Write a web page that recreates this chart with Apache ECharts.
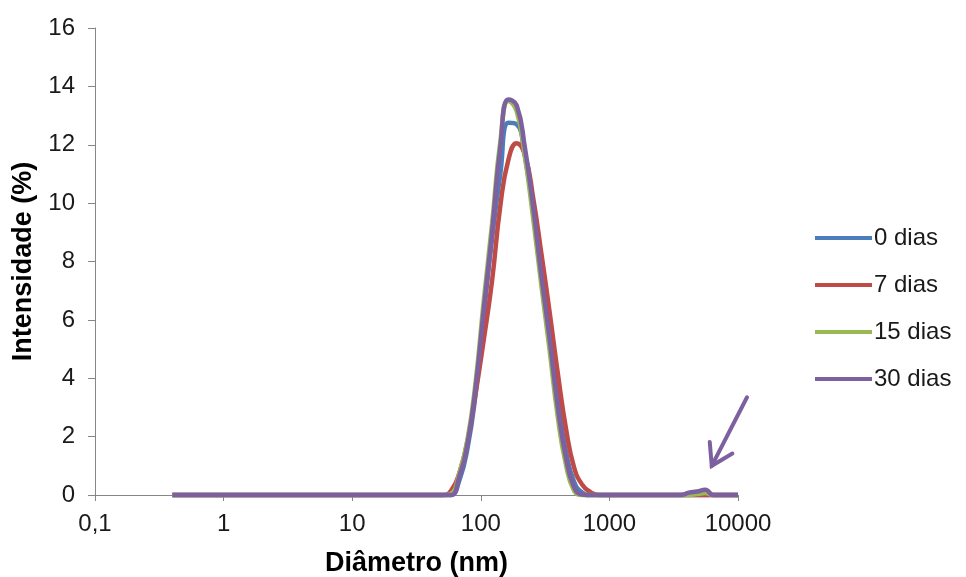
<!DOCTYPE html>
<html>
<head>
<meta charset="utf-8">
<script src="https://cdn.jsdelivr.net/npm/echarts@6/dist/echarts.min.js"></script>
<style>
    html, body { margin: 0; padding: 0; background: #fff; }
    #chart { width: 966px; height: 577px; }
</style>
</head>
<body>
<div id="chart"></div>
<script>
    // tamanhos (nm) das classes do equipamento
    var sizes = [
        0.4, 0.4632, 0.5365, 0.6213, 0.7195, 0.8332, 0.9649, 1.117, 1.294, 1.499,
        1.736, 2.01, 2.328, 2.696, 3.122, 3.615, 4.187, 4.849, 5.615, 6.503,
        7.531, 8.721, 10.1, 11.7, 13.54, 15.69, 18.17, 21.04, 24.36, 28.21,
        32.67, 37.84, 43.82, 50.75, 58.77, 68.06, 78.82, 91.28, 105.7, 122.4,
        141.8, 164.2, 190.1, 220.2, 255.0, 295.3, 342.0, 396.1, 458.7, 531.2,
        615.1, 712.4, 825.0, 955.4, 1106, 1281, 1484, 1718, 1990, 2305,
        2669, 3091, 3580, 4145, 4801, 5560, 6439, 7456, 8635, 10000
    ];
    var seriesNames = ['0 dias', '7 dias', '15 dias', '30 dias'];
    var seriesColors = ['#4A7EBB', '#BE4B48', '#98B954', '#7D60A0'];

    var dias0 = [
        0, 0, 0, 0, 0, 0, 0, 0, 0, 0,
        0, 0, 0, 0, 0, 0, 0, 0, 0, 0,
        0, 0, 0, 0, 0, 0, 0, 0, 0, 0,
        0, 0, 0, 0, 0, 0.5, 1.6, 3.5, 6.2, 8.8,
        11.0, 12.75, 12.7, 11.6, 9.8, 7.6, 5.5, 3.3, 1.5, 0.45,
        0.08, 0, 0, 0, 0, 0, 0, 0, 0, 0,
        0, 0, 0, 0, 0, 0, 0, 0, 0, 0
    ];
    var dias7 = [
        0, 0, 0, 0, 0, 0, 0, 0, 0, 0,
        0, 0, 0, 0, 0, 0, 0, 0, 0, 0,
        0, 0, 0, 0, 0, 0, 0, 0, 0, 0,
        0, 0, 0, 0, 0.15, 0.75, 1.85, 3.5, 5.35, 7.35,
        9.9, 11.5, 12.05, 11.65, 10.2, 8.3, 6.3, 4.2, 2.3, 0.95,
        0.35, 0.1, 0, 0, 0, 0, 0, 0, 0, 0,
        0, 0, 0, 0, 0, 0, 0, 0, 0, 0
    ];
    var dias15 = [
        0, 0, 0, 0, 0, 0, 0, 0, 0, 0,
        0, 0, 0, 0, 0, 0, 0, 0, 0, 0,
        0, 0, 0, 0, 0, 0, 0, 0, 0, 0,
        0, 0, 0, 0, 0.05, 0.75, 1.9, 3.9, 6.7, 9.3,
        12.1, 13.5, 13.15, 11.6, 9.5, 7.2, 5.0, 2.7, 1.05, 0.15,
        0, 0, 0, 0, 0, 0, 0, 0, 0, 0,
        0, 0, 0, 0, 0.03, 0.07, 0, 0, 0, 0
    ];
    var dias30 = [
        0, 0, 0, 0, 0, 0, 0, 0, 0, 0,
        0, 0, 0, 0, 0, 0, 0, 0, 0, 0,
        0, 0, 0, 0, 0, 0, 0, 0, 0, 0,
        0, 0, 0, 0, 0, 0.63, 1.75, 3.7, 6.4, 9.0,
        11.9, 13.55, 13.35, 11.9, 9.9, 7.55, 5.4, 3.05, 1.3, 0.27,
        0.02, 0, 0, 0, 0, 0, 0, 0, 0, 0,
        0, 0, 0, 0.08, 0.12, 0.18, 0, 0, 0, 0
    ];
    var allValues = [dias0, dias7, dias15, dias30];

    // seta indicando o pico pequeno (coordenadas em dados)
    var arrowFrom = [11750, 3.35];
    var arrowTo = [6250, 1.0];

    var dom = document.getElementById('chart');
    var myChart = echarts.init(dom);
    var fontFamily = '"Liberation Sans", Arial, sans-serif';

    var series = [];
    for (var i = 0; i < seriesNames.length; i++) {
        var pts = [];
        for (var j = 0; j < sizes.length; j++) {
            pts.push([sizes[j], allValues[i][j]]);
        }
        series.push({
            name: seriesNames[i],
            type: 'line',
            data: pts,
            smooth: 0.5,
            symbol: 'none',
            showSymbol: false,
            clip: false,
            color: seriesColors[i],
            lineStyle: {width: 4.5, color: seriesColors[i]}
        });
    }

    var option = {
        animation: false,
        textStyle: {fontFamily: fontFamily},
        grid: {left: 95, right: 228, top: 28, bottom: 82, containLabel: false, outerBoundsMode: 'none'},
        legend: {
            orient: 'vertical',
            left: 815,
            top: 226,
            padding: 0,
            itemWidth: 57,
            itemHeight: 4,
            itemGap: 23,
            icon: 'rect',
            textStyle: {fontSize: 24, color: '#1a1a1a', fontFamily: fontFamily, padding: [0, 0, 0, -3]},
            data: seriesNames.map(function (n, k) {
                return {name: n, itemStyle: {color: seriesColors[k]}};
            })
        },
        xAxis: {
            type: 'log',
            logBase: 10,
            min: 0.1,
            max: 10000,
            name: 'Diâmetro (nm)',
            nameLocation: 'middle',
            nameGap: 55,
            nameTextStyle: {fontSize: 27, fontWeight: 'bold', color: '#000', fontFamily: fontFamily},
            axisLine: {show: true, lineStyle: {color: '#868686', width: 1}},
            axisTick: {show: true, length: 6, lineStyle: {color: '#868686'}},
            minorTick: {show: false},
            splitLine: {show: false},
            axisLabel: {
                fontSize: 24,
                color: '#1a1a1a',
                margin: 17,
                formatter: function (v) {
                    return String(+Number(v).toPrecision(6)).replace('.', ',');
                }
            }
        },
        yAxis: {
            type: 'value',
            min: 0,
            max: 16,
            interval: 2,
            name: 'Intensidade (%)',
            nameLocation: 'middle',
            nameGap: 55,
            nameTextStyle: {fontSize: 27, fontWeight: 'bold', color: '#000', fontFamily: fontFamily},
            axisLine: {show: true, lineStyle: {color: '#868686', width: 1}},
            axisTick: {show: true, length: 7, lineStyle: {color: '#868686'}},
            splitLine: {show: false},
            axisLabel: {fontSize: 24, color: '#1a1a1a', margin: 20}
        },
        series: series
    };
    myChart.setOption(option);

    // desenha a seta (haste + ponta aberta)
    var p0 = myChart.convertToPixel({gridIndex: 0}, arrowFrom);
    var p1 = myChart.convertToPixel({gridIndex: 0}, arrowTo);
    var ang = Math.atan2(p0[1] - p1[1], p0[0] - p1[0]);
    var headLen = 24, headAng = 32 * Math.PI / 180;
    var h1 = [p1[0] + headLen * Math.cos(ang + headAng), p1[1] + headLen * Math.sin(ang + headAng)];
    var h2 = [p1[0] + headLen * Math.cos(ang - headAng), p1[1] + headLen * Math.sin(ang - headAng)];
    myChart.setOption({
        graphic: [
            {
                type: 'line',
                shape: {x1: p0[0], y1: p0[1], x2: p1[0], y2: p1[1]},
                style: {stroke: '#7D60A0', lineWidth: 4, lineCap: 'round'}
            },
            {
                type: 'polyline',
                shape: {points: [h1, p1, h2]},
                style: {stroke: '#7D60A0', lineWidth: 4, fill: null, lineJoin: 'miter', lineCap: 'round'}
            }
        ]
    });
</script>
</body>
</html>
